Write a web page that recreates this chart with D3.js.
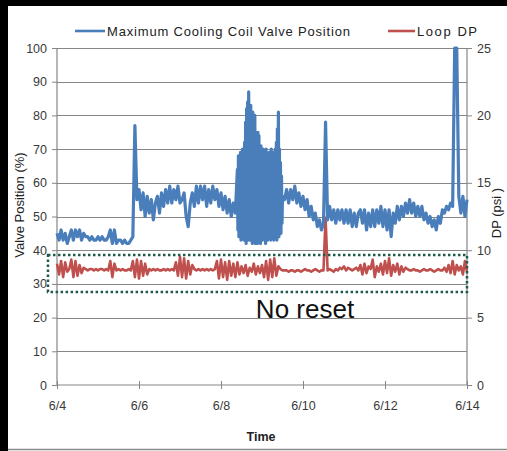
<!DOCTYPE html>
<html><head><meta charset="utf-8">
<script src="https://cdn.jsdelivr.net/npm/d3@7"></script>
<style>body{margin:0;background:#fff}svg{display:block;font-family:Arial,"Liberation Sans",sans-serif}</style>
</head><body>
<script>
// Time axis: 6/4 .. 6/14
const startDate = new Date(2011, 5, 4);
const endDate = new Date(2011, 5, 14);
const xTickLabels = ["6/4","6/6","6/8","6/10","6/12","6/14"];
const leftTicks = [0,10,20,30,40,50,60,70,80,90,100];
const rightTicks = [0,5,10,15,20,25];
const seriesNames = ["Maximum Cooling Coil Valve Position","Loop DP"];

// Maximum Cooling Coil Valve Position (%), in three sampled pieces
// piece 1: from day 0.00, every 0.05 day
const valveBeforeStart = 0, valveBeforeStep = 0.05;
const valveBefore = [
45,43,46,43,45,42,44,46,43,46,44,46,43,45,44,
44,43,44,43,43,44,43,44,43,43,44,
46,42,46,42,
43,43,42,43,42,42,43,
44,77,55,
58,52,57,50,56,51,55,49,54,56,51,57,53,58,54,59,54,58,55,59,54,
55,57,50,47,54,57,53,59,54,59,55,59,53,58,54,59,55,58,53,57,
52,56,51,55,50,54,51
];
// piece 2: oscillating period from day 4.40, every 0.0125 day
const valveBurstStart = 4.4, valveBurstStep = 0.0125;
const valveBurst = [
64,46, 68,44, 66,45, 69,43, 67,44, 70,45, 69,43, 72,44, 78,42, 82,44,
84,43, 87,45, 80,43, 83,44, 79,42, 81,43, 76,44, 80,42, 75,43, 73,42,
75,44, 74,43, 70,42, 71,44, 68,43, 70,45, 69,44, 67,42, 70,44, 68,43,
66,45, 69,44, 67,43, 70,45, 68,44, 69,43, 67,45, 70,44, 72,43, 76,45,
81,44, 70,46, 66,45, 62,48,
56
];
// piece 3: from day 5.55, every 0.05 day
const valveAfterStart = 5.55, valveAfterStep = 0.05;
const valveAfter = [
55,58,54,58,55,59,54,57,53,56,52,55,50,53,49,51,47,49,46,48,
78,
49,53,49,52,48,52,49,52,48,
52,48,52,47,51,47,51,52,48,52,46,51,47,52,47,52,48,53,47,52,
46,52,44,51,48,53,49,53,50,54,51,55,51,54,50,53,50,53,49,51,
48,50,47,49,46,50,48,52,51,53,52,54,53,100,100,56,51,56,50,55
];

// Loop DP (psi), from day 0, every 0.05 day
const loopDPStep = 0.05;
const loopDP = [
9.0,8.2,9.2,8.0,9.1,8.4,8.6,9.3,8.0,9.2,8.1,8.9,8.3,8.7,
8.6,8.5,8.6,8.6,8.5,8.6,8.5,8.6,8.6,8.5,8.6,8.5,
9.2,8.0,9.0,
8.5,8.6,8.5,8.6,8.5,8.5,8.6,8.5,
9.2,8.0,9.3,7.9,9.2,8.1,9.0,8.2,
8.6,8.5,8.6,8.5,8.6,8.5,8.5,8.6,8.5,8.6,8.5,8.6,8.5,
9.1,8.1,9.5,8.0,9.4,7.9,9.2,8.2,8.9,
8.6,8.5,8.6,8.5,8.6,8.5,8.6,8.5,8.6,8.5,8.6,
9.2,7.9,9.3,8.0,9.1,7.8,9.2,8.1,9.0,8.0,9.1,8.2,
8.8,8.3,8.9,8.1,8.7,8.4,9.0,8.2,8.8,8.3,8.9,8.0,9.2,7.8,9.3,8.0,9.4,8.1,8.8,
8.6,8.5,8.5,8.5,8.4,8.5,8.5,8.4,8.5,8.5,8.4,8.5,8.6,8.5,8.5,8.4,8.5,8.6,8.5,8.4,8.5,8.5,
12.4,
8.5,8.6,8.5,8.4,8.6,8.5,8.7,8.6,8.8,8.5,8.7,8.6,8.5,8.6,8.7,8.5,
8.9,8.2,9.0,8.3,8.8,8.6,9.3,8.0,8.8,8.4,9.0,8.2,9.2,8.3,9.4,8.1,8.9,8.4,9.0,8.2,8.8,8.4,8.7,
8.6,8.5,8.5,8.6,8.5,8.5,8.4,8.5,8.6,8.5,8.5,8.6,8.5,8.4,8.5,8.6,8.5,8.5,
8.7,8.4,8.9,8.3,9.2,8.2,8.9,8.5,8.8,8.2,9.2,8.4
];

const W = 507, H = 451;
const m = {left: 57, right: 467, top: 48, bottom: 385};
const svg = d3.select("body").append("svg").attr("width", W).attr("height", H);

// frame
svg.append("rect").attr("x",0).attr("y",0).attr("width",W).attr("height",H).attr("fill","#fff");
svg.append("rect").attr("x",0).attr("y",0).attr("width",W).attr("height",6).attr("fill","#000");
svg.append("rect").attr("x",0).attr("y",0).attr("width",8).attr("height",H).attr("fill","#000");
svg.append("line").attr("x1",8).attr("x2",W).attr("y1",449.5).attr("y2",449.5).attr("stroke","#8a8a8a").attr("stroke-width",1.5);

const dayMs = 86400000;
const dayToDate = d => new Date(startDate.getTime() + d*dayMs);
const x = d3.scaleTime().domain([startDate, endDate]).range([m.left, m.right]);
const yL = d3.scaleLinear().domain([0,100]).range([m.bottom, m.top]);
const yR = d3.scaleLinear().domain([0,25]).range([m.bottom, m.top]);

const piece = (arr, start, step) => arr.map((v,i)=>({t: dayToDate(start + i*step), v}));
const valveSeries = [].concat(
  piece(valveBefore, valveBeforeStart, valveBeforeStep),
  piece(valveBurst, valveBurstStart, valveBurstStep),
  piece(valveAfter, valveAfterStart, valveAfterStep));
const dpSeries = piece(loopDP, 0, loopDPStep);

// gridlines
svg.append("g").selectAll("line").data(leftTicks.slice(1)).join("line")
  .attr("x1", m.left).attr("x2", m.right)
  .attr("y1", d => Math.round(yL(d))+0.5).attr("y2", d => Math.round(yL(d))+0.5)
  .attr("stroke","#868686").attr("stroke-width",1);

const grey = "#868686";
const gL = svg.append("g").attr("transform",`translate(${m.left},0)`)
  .call(d3.axisLeft(yL).tickValues(leftTicks).tickSize(5).tickPadding(5));
const gR = svg.append("g").attr("transform",`translate(${m.right},0)`)
  .call(d3.axisRight(yR).tickValues(rightTicks).tickSize(5).tickPadding(5));
const xTickDates = xTickLabels.map((s,i)=> dayToDate(i*2));
const gB = svg.append("g").attr("transform",`translate(0,${m.bottom})`)
  .call(d3.axisBottom(x).tickValues(xTickDates).tickFormat((d,i)=>xTickLabels[i]).tickSize(4).tickPadding(12));
gB.selectAll(".tick line").attr("y1",-4);
[gL,gR,gB].forEach(g=>{
  g.select(".domain").attr("stroke",grey).attr("stroke-width",1.2);
  g.selectAll(".tick line").attr("stroke",grey);
  g.selectAll(".tick text").attr("fill","#3a3a3a").attr("font-size","12.5px").attr("font-family","Arial, 'Liberation Sans', sans-serif");
});
gL.select(".domain").attr("d",`M-0,${m.bottom}V${m.top}`);
gR.select(".domain").attr("d",`M0,${m.bottom}V${m.top}`);
gB.select(".domain").attr("d",`M${m.left},0H${m.right}`);

// lines
const lineL = d3.line().x(d=>x(d.t)).y(d=>yL(d.v));
const lineR = d3.line().x(d=>x(d.t)).y(d=>yR(d.v));
svg.append("path").datum(dpSeries).attr("d", lineR).attr("fill","none")
  .attr("stroke","#c0504d").attr("stroke-width",2.6).attr("stroke-linejoin","round");
svg.append("path").datum(valveSeries).attr("d", lineL).attr("fill","none")
  .attr("stroke","#4a7ebb").attr("stroke-width",3.2).attr("stroke-linejoin","round");

// dotted "no reset" box
const boxLeft = x(dayToDate(-0.22));
svg.append("rect").attr("x", boxLeft).attr("y", yL(38.6))
  .attr("width", m.right - boxLeft).attr("height", yL(27.6)-yL(38.6))
  .attr("fill","none").attr("stroke","#1f5a4c").attr("stroke-width",2.5).attr("stroke-dasharray","2.5,2.5");
svg.append("text").attr("x",305).attr("y",318).attr("text-anchor","middle")
  .attr("font-size","26px").attr("fill","#111").text("No reset");

// axis titles
svg.append("text").attr("transform",`translate(24,205) rotate(-90)`).attr("text-anchor","middle")
  .attr("font-size","13px").attr("fill","#222").text("Valve Position (%)");
svg.append("text").attr("transform",`translate(501,213) rotate(-90)`).attr("text-anchor","middle")
  .attr("font-size","13px").attr("fill","#222").text("DP (psi )");
svg.append("text").attr("x",261).attr("y",441).attr("text-anchor","middle")
  .attr("font-size","12.5px").attr("font-weight","bold").attr("fill","#222").text("Time");

// legend
const leg = svg.append("g");
leg.append("line").attr("x1",75).attr("x2",105).attr("y1",31).attr("y2",31).attr("stroke","#4a7ebb").attr("stroke-width",2.6);
leg.append("text").attr("x",107).attr("y",36).attr("font-size","13px").attr("fill","#222")
  .attr("textLength",243).attr("lengthAdjust","spacing").text(seriesNames[0]);
leg.append("line").attr("x1",388).attr("x2",415).attr("y1",31).attr("y2",31).attr("stroke","#c0504d").attr("stroke-width",2.6);
leg.append("text").attr("x",417).attr("y",36).attr("font-size","13px").attr("fill","#222")
  .attr("textLength",60).attr("lengthAdjust","spacing").text(seriesNames[1]);
</script>
</body></html>
